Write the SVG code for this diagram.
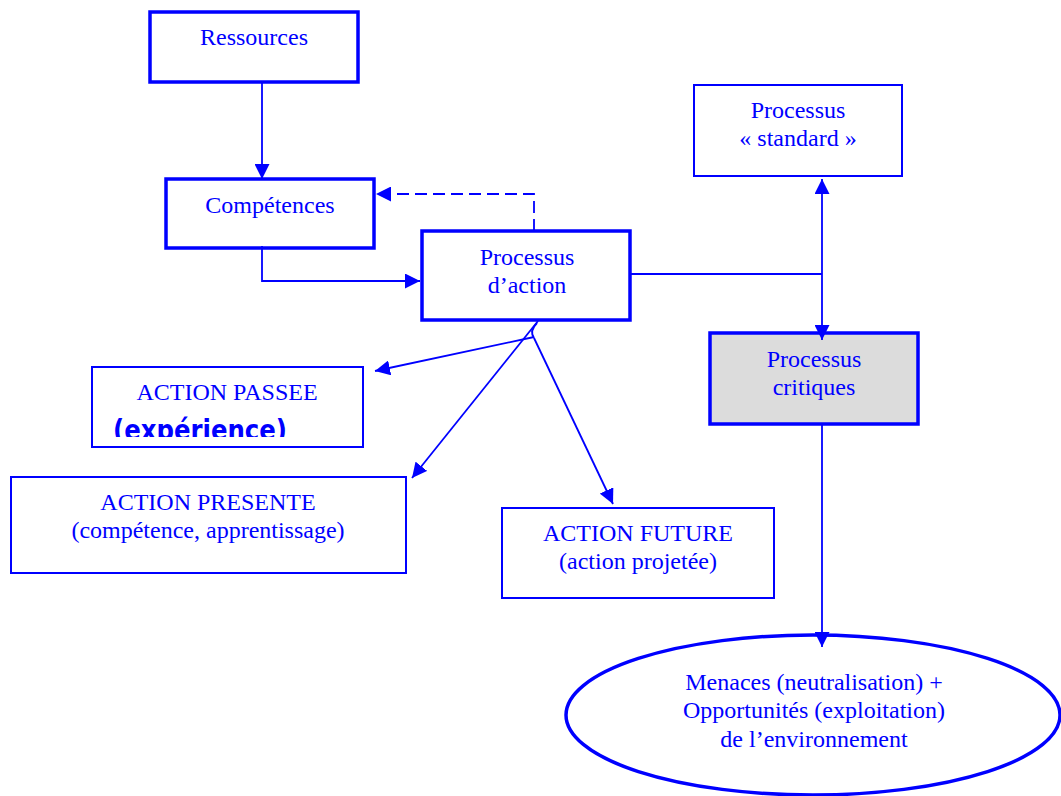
<svg xmlns="http://www.w3.org/2000/svg" width="1061" height="796" viewBox="0 0 1061 796">
<style>
.thick{fill:#fff;stroke:#0000ff;stroke-width:3.5}
.thin{fill:#fff;stroke:#0000ff;stroke-width:2}
.grey{fill:#dcdcdc;stroke:#0000ff;stroke-width:3.5}
.t{font-family:"Liberation Serif","Times New Roman",serif;font-size:24px;fill:#0000ff;text-anchor:middle}
.b{font-family:"DejaVu Sans",sans-serif;font-size:28px;font-weight:bold;fill:#0000ff}
.c{fill:none;stroke:#0000ff;stroke-width:1.8}
.d{fill:none;stroke:#0000ff;stroke-width:1.8;stroke-dasharray:12 6}
</style>
<defs>
<marker id="ahb" viewBox="0 0 10 10" refX="10" refY="5" markerWidth="15" markerHeight="15" markerUnits="userSpaceOnUse" orient="auto">
<path d="M0,0 L10,5 L0,10 Z" fill="#0000ff"/>
</marker>
<clipPath id="clipExp"><rect x="92" y="367" width="271" height="70"/></clipPath>
</defs>
<rect width="1061" height="796" fill="#fff"/>

<g id="ressources">
<rect class="thick" x="150" y="12" width="208" height="70"/>
<text class="t" x="254" y="45">Ressources</text>
</g>
<g id="competences">
<rect class="thick" x="166" y="179" width="208" height="69"/>
<text class="t" x="270" y="213">Compétences</text>
</g>
<g id="processus-action">
<rect class="thick" x="422" y="231" width="208" height="89"/>
<text class="t" x="527" y="265">Processus</text>
<text class="t" x="527" y="293">d’action</text>
</g>
<g id="processus-standard">
<rect class="thin" x="694" y="85" width="208" height="91"/>
<text class="t" x="798" y="118">Processus</text>
<text class="t" x="798" y="146">« standard »</text>
</g>
<g id="processus-critiques">
<rect class="grey" x="710" y="333" width="208" height="91"/>
<text class="t" x="814" y="367">Processus</text>
<text class="t" x="814" y="395">critiques</text>
</g>
<g id="action-passee">
<rect class="thin" x="92" y="367" width="271" height="80"/>
<text class="t" x="227" y="400">ACTION PASSEE</text>
<text class="b" x="113" y="440" textLength="174" lengthAdjust="spacingAndGlyphs" clip-path="url(#clipExp)">(expérience)</text>
</g>
<g id="action-presente">
<rect class="thin" x="11" y="477" width="395" height="96"/>
<text class="t" x="208" y="510">ACTION PRESENTE</text>
<text class="t" x="208" y="538">(compétence, apprentissage)</text>
</g>
<g id="action-future">
<rect class="thin" x="502" y="508" width="272" height="90"/>
<text class="t" x="638" y="541">ACTION FUTURE</text>
<text class="t" x="638" y="569">(action projetée)</text>
</g>
<g id="environnement">
<ellipse cx="813" cy="715" rx="247" ry="80" fill="#fff" stroke="#0000ff" stroke-width="3.5"/>
<text class="t" x="814" y="690">Menaces (neutralisation) +</text>
<text class="t" x="814" y="718">Opportunités (exploitation)</text>
<text class="t" x="814" y="747">de l’environnement</text>
</g>

<g id="connectors">
<line class="c" x1="262" y1="82" x2="262" y2="179" marker-end="url(#ahb)"/>
<polyline class="c" points="262,246 262,281 420,281" marker-end="url(#ahb)"/>
<polyline class="d" points="534,231 534,194 376,194" marker-end="url(#ahb)"/>
<polyline class="c" points="630,274 822,274"/>
<line class="c" x1="822" y1="274" x2="822" y2="179" marker-end="url(#ahb)"/>
<line class="c" x1="822" y1="274" x2="822" y2="340" marker-end="url(#ahb)"/>
<line class="c" x1="822" y1="424" x2="822" y2="647" marker-end="url(#ahb)"/>
<line class="c" x1="534" y1="337" x2="375" y2="371" marker-end="url(#ahb)"/>
<line class="c" x1="538" y1="321" x2="412" y2="478" marker-end="url(#ahb)"/>
<path class="c" d="M537,323 Q529,331 534,338"/>
<line class="c" x1="534" y1="338" x2="613" y2="504" marker-end="url(#ahb)"/>
</g>
</svg>
